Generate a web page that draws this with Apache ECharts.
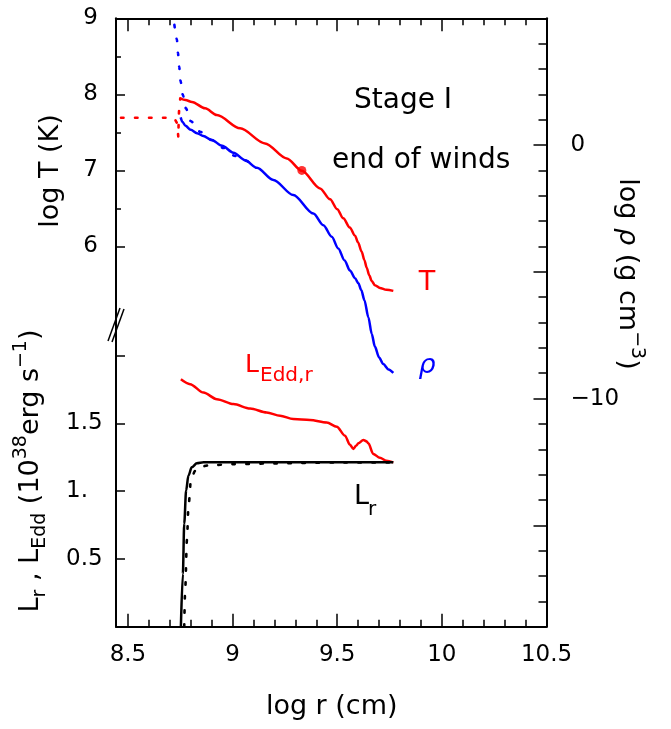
<!DOCTYPE html>
<html><head><meta charset="utf-8">
<script src="https://cdn.jsdelivr.net/npm/echarts@6/dist/echarts.min.js"></script>
<style>html,body{margin:0;padding:0;background:#fff}#c{width:671px;height:729px}</style>
</head><body><div id="c"></div>
<script>
// ---- axis ticks / labels ----
const xTicksMajor = [8.5, 9, 9.5, 10, 10.5];
const xTicksMinor = [8.5,8.6,8.7,8.8,8.9,9.0,9.1,9.2,9.3,9.4,9.5,9.6,9.7,9.8,9.9,10.0,10.1,10.2,10.3,10.4,10.5];
const tLabels = [6, 7, 8, 9];
const tTicksMajor = [6, 7, 8];
const tTicksMinor = [6.5, 7.5, 8.5];
const lLabels = [0.5, 1, 1.5];
const lTicks = [0.5, 1, 1.5, 2];
const rhoLabels = [0, -10];
const rhoTicksMajor = [-15, -10, -5, 0];
const rhoTicksMinor = [-18,-17,-16,-15,-14,-13,-12,-11,-10,-9,-8,-7,-6,-5,-4,-3,-2,-1,0,1,2,3,4];

// ---- log T (solid, red) ----
const tR = [8.750,8.775,8.806,8.869,8.925,9.036,9.155,9.259,9.331,9.418,9.466,9.500,9.529,9.560,9.585,9.600,9.617,9.630,9.641,9.653,9.665,9.680,9.704,9.735,9.768];
const tT = [7.947,7.925,7.900,7.816,7.728,7.553,7.355,7.158,6.995,6.763,6.62,6.49,6.37,6.25,6.14,6.05,5.93,5.82,5.72,5.62,5.545,5.49,5.455,5.43,5.416];
// ---- log T (dotted, red): flat interior part and dip ----
const tDotR = [8.467,8.60,8.72,8.735,8.741,8.742,8.744,8.750];
const tDotT = [7.692,7.692,7.692,7.62,7.43,7.60,7.77,7.947];
// ---- marked point ----
const markR = [9.331];
const markT = [7.0];
// ---- log rho (solid, blue) ----
const rhoR = [8.752,8.760,8.775,8.800,8.830,8.860,8.900,8.950,9.004,9.060,9.116,9.195,9.290,9.386,9.434,9.474,9.505,9.535,9.561,9.585,9.601,9.615,9.630,9.649,9.665,9.680,9.700,9.720,9.745,9.768];
const rhoV = [1.09,0.92,0.76,0.60,0.47,0.36,0.20,-0.03,-0.30,-0.60,-0.90,-1.38,-1.97,-2.70,-3.16,-3.62,-4.08,-4.55,-4.95,-5.25,-5.45,-5.72,-6.12,-6.80,-7.45,-7.95,-8.38,-8.64,-8.85,-8.99];
// ---- log rho (dotted, blue): steep inner part until it merges ----
const rhoDotR = [8.722,8.734,8.739,8.745,8.751,8.7625,8.777,8.799,8.845,8.901,8.956,9.012,9.060,9.116];
const rhoDotV = [4.74,4.17,3.64,3.09,2.54,1.97,1.45,0.95,0.525,0.197,-0.11,-0.43,-0.62,-0.90];
// ---- L_Edd,r (red) ----
const leR = [8.753,8.797,8.861,8.925,9.004,9.084,9.163,9.227,9.290,9.370,9.450,9.498,9.537,9.560,9.577,9.590,9.601,9.625,9.640,9.649,9.672,9.704,9.735,9.768];
const leV = [1.826,1.790,1.728,1.679,1.643,1.610,1.581,1.557,1.532,1.525,1.507,1.476,1.410,1.345,1.312,1.335,1.353,1.378,1.368,1.353,1.275,1.246,1.225,1.213];
// ---- L_r (solid, black) ----
const lrR = [8.753,8.7625,8.769,8.778,8.789,8.805,8.829,8.861,9.768];
const lrV = [0,0.39,0.76,1.005,1.115,1.176,1.206,1.213,1.213];
// ---- L_r (dotted, black) ----
const lrDotR = [8.769,8.7735,8.782,8.789,8.801,8.821,8.845,8.885,9.0,9.2,9.5,9.768];
const lrDotV = [0,0.27,0.64,0.88,1.08,1.15,1.18,1.19,1.20,1.205,1.212,1.213];

const zip = (a, b) => a.map((v, i) => [v, b[i]]);
const FONT = "'DejaVu Sans', sans-serif";
const XMIN = 8.443, XMAX = 10.5;

function xAx(pos, ticks, len, labels) {
  return {
    type: 'value', position: pos, min: XMIN, max: XMAX,
    axisLine: { show: len > 10, onZero: false, lineStyle: { color: '#000', width: 2 } },
    axisTick: { show: true, inside: true, length: len, customValues: ticks, lineStyle: { color: '#000', width: 1.5 } },
    axisLabel: labels ? { show: true, customValues: labels, margin: 17, color: '#000', fontSize: 23, fontFamily: FONT,
      formatter: v => String(v) } : { show: false },
    splitLine: { show: false }
  };
}
function yAx(pos, min, max, ticks, len, labels, opt) {
  opt = opt || {};
  return {
    type: 'value', position: pos, min: min, max: max,
    axisLine: { show: !!opt.line, lineStyle: { color: '#000', width: 2 } },
    axisTick: { show: true, inside: true, length: len, customValues: ticks, lineStyle: { color: '#000', width: 1.5 } },
    axisLabel: labels ? Object.assign({ show: true, customValues: labels, color: '#000', fontSize: 23, fontFamily: FONT }, opt.label) : { show: false },
    splitLine: { show: false }
  };
}

const chart = echarts.init(document.getElementById('c'), null, { renderer: 'canvas' });
const lineS = (data, yi, color, dotted, sm) => ({
  type: 'line', xAxisIndex: 0, yAxisIndex: yi, data: data, showSymbol: false, symbol: 'none',
  smooth: sm === undefined ? 0.3 : sm, smoothMonotone: 'x', animation: false,
  lineStyle: dotted ? { color: color, width: 2.6, type: [2.5, 11.5], cap: 'round' } : { color: color, width: 2.5 },
  z: dotted ? 3 : 2
});

chart.setOption({
  animation: false,
  backgroundColor: '#fff',
  grid: { left: 116, right: 124.5, top: 18.3, bottom: 102.3, containLabel: false },
  xAxis: [
    xAx('bottom', xTicksMajor, 13, xTicksMajor),
    xAx('bottom', xTicksMinor, 7, null),
    xAx('top', xTicksMajor, 13, null),
    xAx('top', xTicksMinor, 7, null)
  ],
  yAxis: [
    yAx('left', 1.0, 9, tTicksMajor, 9, tLabels, { line: true, label: { margin: 18 } }),
    yAx('left', 1.0, 9, tTicksMinor, 5, null),
    yAx('left', 0, 4.49, lTicks, 9, lLabels, { label: { margin: 50, align: 'left', formatter: v => v === 1 ? '1.' : String(v) } }),
    yAx('right', -19, 5, rhoTicksMajor, 13, rhoLabels, { line: true, label: { margin: 24, formatter: v => v < 0 ? '\u2212' + Math.abs(v) : String(v) } }),
    yAx('right', -19, 5, rhoTicksMinor, 8, null)
  ],
  series: [
    lineS(zip(tDotR, tDotT), 0, '#ff0000', true, false),
    lineS(zip(tR, tT), 0, '#ff0000', false),
    lineS(zip(rhoDotR, rhoDotV), 3, '#0000ff', true),
    lineS(zip(rhoR, rhoV), 3, '#0000ff', false),
    lineS(zip(leR, leV), 2, '#ff0000', false),
    lineS(zip(lrDotR, lrDotV), 2, '#000000', true),
    lineS(zip(lrR, lrV), 2, '#000000', false),
    { type: 'scatter', xAxisIndex: 0, yAxisIndex: 0, data: zip(markR, markT), symbolSize: 9,
      itemStyle: { color: '#ff0000' }, animation: false, z: 5 }
  ],
  graphic: [
    // axis break marks
    { type: 'line', shape: { x1: 108, y1: 341, x2: 120, y2: 308 }, style: { stroke: '#000', lineWidth: 1.5 }, z: 10 },
    { type: 'line', shape: { x1: 112, y1: 342, x2: 124, y2: 309 }, style: { stroke: '#000', lineWidth: 1.5 }, z: 10 },
    // titles
    { type: 'text', x: 51, y: 171, rotation: Math.PI / 2,
      style: { text: 'log T (K)', font: '27px ' + FONT, fill: '#000', align: 'center', verticalAlign: 'middle' } },
    { type: 'text', x: 331.7, y: 707,
      style: { text: 'log r (cm)', font: '27px ' + FONT, fill: '#000', align: 'center', verticalAlign: 'middle' } },
    { type: 'text', x: 31, y: 471, rotation: Math.PI / 2,
      style: { text: '{m|L}{b|r}{m| , L}{b|Edd}{m| (10}{p|38}{m|erg s}{p|\u22121}{m|)}',
        align: 'center', verticalAlign: 'middle', fill: '#000',
        rich: {
          m: { fontSize: 27, fontFamily: FONT, fill: '#000', lineHeight: 38, verticalAlign: 'middle' },
          b: { fontSize: 19, fontFamily: FONT, fill: '#000', verticalAlign: 'bottom' },
          p: { fontSize: 19, fontFamily: FONT, fill: '#000', verticalAlign: 'top' }
        } } },
    { type: 'text', x: 627, y: 274, rotation: -Math.PI / 2,
      style: { text: '{m|log }{i|\u03c1}{m| (g cm}{p|\u22123}{m|)}',
        align: 'center', verticalAlign: 'middle', fill: '#000',
        rich: {
          m: { fontSize: 27, fontFamily: FONT, fill: '#000', lineHeight: 38, verticalAlign: 'middle' },
          i: { fontSize: 27, fontFamily: FONT, fontStyle: 'italic', fill: '#000', verticalAlign: 'middle' },
          p: { fontSize: 19, fontFamily: FONT, fill: '#000', verticalAlign: 'top' }
        } } },
    // annotations
    { type: 'text', x: 354, y: 101, style: { text: 'Stage I', font: '28px ' + FONT, fill: '#000', align: 'left', verticalAlign: 'middle' } },
    { type: 'text', x: 332, y: 161, style: { text: 'end of winds', font: '28px ' + FONT, fill: '#000', align: 'left', verticalAlign: 'middle' } },
    { type: 'text', x: 427, y: 283, style: { text: 'T', font: '27px ' + FONT, fill: '#ff0000', align: 'center', verticalAlign: 'middle' } },
    { type: 'text', x: 427, y: 366, style: { text: '\u03c1', font: 'italic 27px ' + FONT, fill: '#0000ff', align: 'center', verticalAlign: 'middle' } },
    { type: 'text', x: 245, y: 365, style: { text: 'L', font: '25px ' + FONT, fill: '#ff0000', align: 'left', verticalAlign: 'middle' } },
    { type: 'text', x: 260, y: 376, style: { text: 'Edd,r', font: '20px ' + FONT, fill: '#ff0000', align: 'left', verticalAlign: 'middle' } },
    { type: 'text', x: 354, y: 497, style: { text: 'L', font: '27px ' + FONT, fill: '#000', align: 'left', verticalAlign: 'middle' } },
    { type: 'text', x: 368, y: 510, style: { text: 'r', font: '20px ' + FONT, fill: '#000', align: 'left', verticalAlign: 'middle' } }
  ]
});
</script>
</body></html>
